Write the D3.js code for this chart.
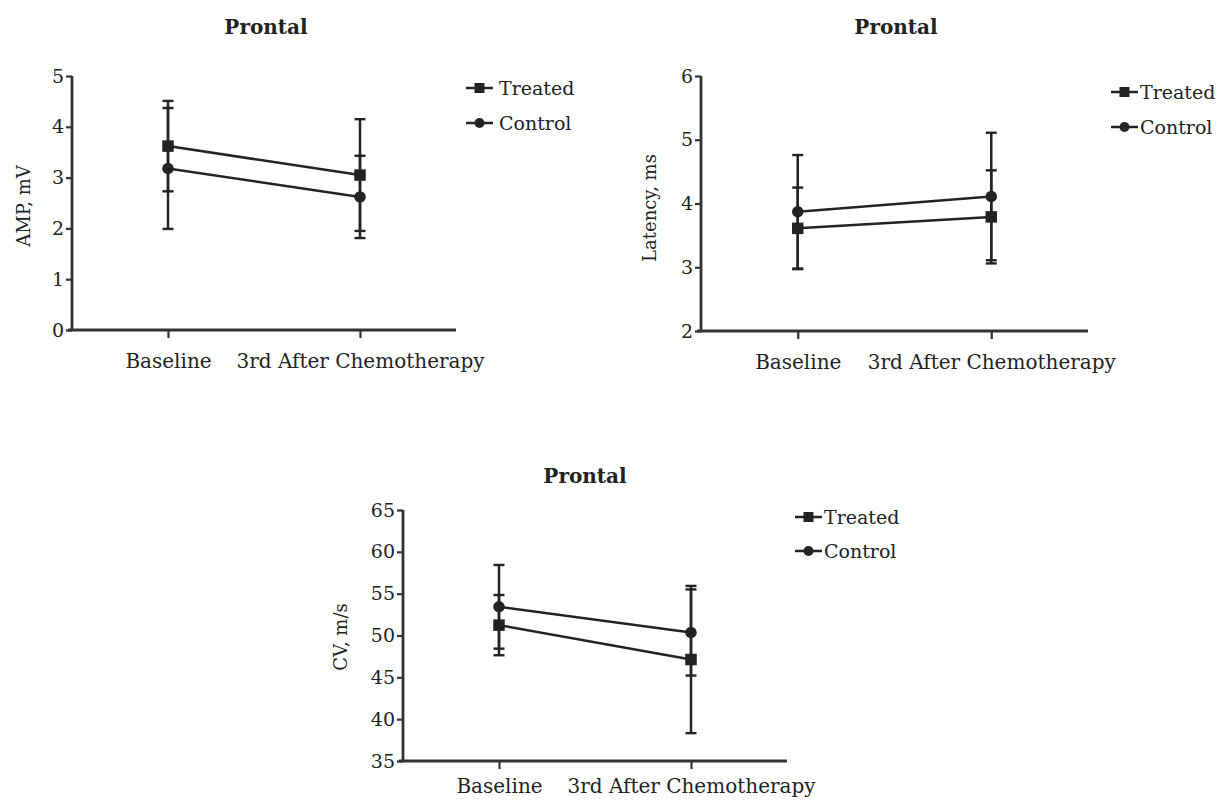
<!DOCTYPE html>
<html>
<head>
<meta charset="utf-8">
<script src="https://cdn.jsdelivr.net/npm/d3@7/dist/d3.min.js"></script>
<style>
  body { margin: 0; background: #fff; }
  svg text { font-family: "DejaVu Serif", serif; fill: #222; }
</style>
</head>
<body>
<div id="chart"></div>
<script>
/** Three small line charts (Treated vs Control, mean +/- SD) drawn with d3.
    - data arrays
    - panel layout
    - draw each panel
    - helper functions
**/

// categories and series names shared by all panels
var categories = ["Baseline", "3rd After Chemotherapy"];
var seriesNames = ["Treated", "Control"];

// AMP, mV
var ampTreated = [3.62, 3.05];
var ampTreatedSD = [0.89, 1.10];
var ampControl = [3.18, 2.62];
var ampControlSD = [1.19, 0.81];
var ampTicks = [0, 1, 2, 3, 4, 5];

// Latency, ms
var latTreated = [3.61, 3.79];
var latTreatedSD = [0.64, 0.73];
var latControl = [3.87, 4.11];
var latControlSD = [0.89, 1.00];
var latTicks = [2, 3, 4, 5, 6];

// CV, m/s
var cvTreated = [51.24, 47.13];
var cvTreatedSD = [3.6, 8.8];
var cvControl = [53.43, 50.36];
var cvControlSD = [5.0, 5.15];
var cvTicks = [35, 40, 45, 50, 55, 60, 65];

var ink = "#232323";

var svg = d3.select("#chart").append("svg")
    .attr("width", 1221)
    .attr("height", 800);

svg.append("rect")
    .attr("width", 1221)
    .attr("height", 800)
    .attr("fill", "#fff");

//layout of the three panels (positions only, values come from the arrays above)
var panels = [
  { title: "Prontal", yLabel: "AMP, mV", ticks: ampTicks,
    treated: ampTreated, treatedSD: ampTreatedSD, control: ampControl, controlSD: ampControlSD,
    left: 72, right: 456, top: 76, bottom: 330, labelPad: 16,
    titleX: 266, titleY: 34, labelX: 30, labelY: 206,
    legendX: 466, legendY: 88, legendGap: 35, legendText: 33 },
  { title: "Prontal", yLabel: "Latency, ms", ticks: latTicks,
    treated: latTreated, treatedSD: latTreatedSD, control: latControl, controlSD: latControlSD,
    left: 701, right: 1088, top: 76, bottom: 331, labelPad: 16,
    titleX: 896, titleY: 34, labelX: 656, labelY: 208,
    legendX: 1111, legendY: 92, legendGap: 35, legendText: 29 },
  { title: "Prontal", yLabel: "CV, m/s", ticks: cvTicks,
    treated: cvTreated, treatedSD: cvTreatedSD, control: cvControl, controlSD: cvControlSD,
    left: 403, right: 787, top: 510, bottom: 761, labelPad: 10,
    titleX: 585, titleY: 483, labelX: 347, labelY: 637,
    legendX: 795, legendY: 517, legendGap: 34, legendText: 29 }
];

panels.forEach(drawPanel);


/*** HELPER FUNCTIONS ***/

/* Draws one panel: axes, the two series with error bars, title and legend.
   @param p : the panel layout object
*/
function drawPanel(p) {
  var g = svg.append("g");

  var x = d3.scalePoint()
      .domain(categories)
      .range([p.left, p.right])
      .padding(0.5);

  var y = d3.scaleLinear()
      .domain(d3.extent(p.ticks))
      .range([p.bottom, p.top]);

  // y axis
  var yAxis = g.append("g")
      .attr("transform", "translate(" + p.left + ",0)")
      .call(d3.axisLeft(y)
        .tickValues(p.ticks)
        .tickFormat(d3.format("d"))
        .tickSize(6)
        .tickSizeOuter(0)
        .tickPadding(2));
  styleAxis(yAxis);
  yAxis.select(".domain").attr("d", "M0," + p.top + "V" + (p.bottom + 1));

  // x axis
  var xAxis = g.append("g")
      .attr("transform", "translate(0," + p.bottom + ")")
      .call(d3.axisBottom(x).tickSize(8).tickSizeOuter(0).tickPadding(p.labelPad));
  styleAxis(xAxis);
  xAxis.select(".domain").attr("d", "M" + (p.left - 4) + ",0H" + p.right);
  xAxis.selectAll("text").style("font-size", "20px");

  // title
  g.append("text")
      .attr("x", p.titleX)
      .attr("y", p.titleY)
      .attr("text-anchor", "middle")
      .style("font-size", "20px")
      .style("font-weight", "bold")
      .text(p.title);

  // y label
  g.append("text")
      .attr("transform", "translate(" + p.labelX + "," + p.labelY + ") rotate(-90)")
      .attr("text-anchor", "middle")
      .style("font-size", "18px")
      .text(p.yLabel);

  var series = [
    { name: seriesNames[0], mean: p.treated, sd: p.treatedSD, shape: "square" },
    { name: seriesNames[1], mean: p.control, sd: p.controlSD, shape: "circle" }
  ];

  var line = d3.line()
      .x(function(d, i) { return x(categories[i]); })
      .y(function(d) { return y(d); });

  series.forEach(function(s) {
    var sg = g.append("g");

    // error bars
    s.mean.forEach(function(m, i) {
      var cx = x(categories[i]);
      var hi = y(m + s.sd[i]), lo = y(m - s.sd[i]);
      sg.append("line")
          .attr("x1", cx).attr("x2", cx)
          .attr("y1", hi).attr("y2", lo)
          .attr("stroke", ink).attr("stroke-width", 2.5);
      [hi, lo].forEach(function(cy) {
        sg.append("line")
            .attr("x1", cx - 5.5).attr("x2", cx + 5.5)
            .attr("y1", cy).attr("y2", cy)
            .attr("stroke", ink).attr("stroke-width", 2.4);
      });
    });

    sg.append("path")
        .datum(s.mean)
        .attr("d", line)
        .attr("fill", "none")
        .attr("stroke", ink)
        .attr("stroke-width", 2.5);

    s.mean.forEach(function(m, i) {
      drawMarker(sg, s.shape, x(categories[i]), y(m), 11.5);
    });
  });

  // legend
  series.forEach(function(s, i) {
    var ly = p.legendY + i * p.legendGap;
    g.append("line")
        .attr("x1", p.legendX).attr("x2", p.legendX + 27)
        .attr("y1", ly).attr("y2", ly)
        .attr("stroke", ink).attr("stroke-width", 2.5);
    drawMarker(g, s.shape, p.legendX + 13.5, ly, 10);
    g.append("text")
        .attr("x", p.legendX + p.legendText)
        .attr("y", ly + 7)
        .style("font-size", "19px")
        .text(s.name);
  });
}

/* Styles the lines and texts of a d3 axis group */
function styleAxis(a) {
  a.attr("font-family", null).attr("font-size", null);
  a.select(".domain").attr("stroke", "#333").attr("stroke-width", 2.8);
  a.selectAll(".tick line").attr("stroke", "#333").attr("stroke-width", 2.2);
  a.selectAll(".tick text").style("font-size", "19px").attr("fill", ink);
}

/* Draws a square or a circle marker centred at (cx, cy) */
function drawMarker(sel, shape, cx, cy, size) {
  if (shape == "square") {
    sel.append("rect")
        .attr("x", cx - size / 2).attr("y", cy - size / 2)
        .attr("width", size).attr("height", size)
        .attr("fill", ink);
  } else {
    sel.append("circle")
        .attr("cx", cx).attr("cy", cy)
        .attr("r", size / 2)
        .attr("fill", ink);
  }
}
</script>
</body>
</html>
